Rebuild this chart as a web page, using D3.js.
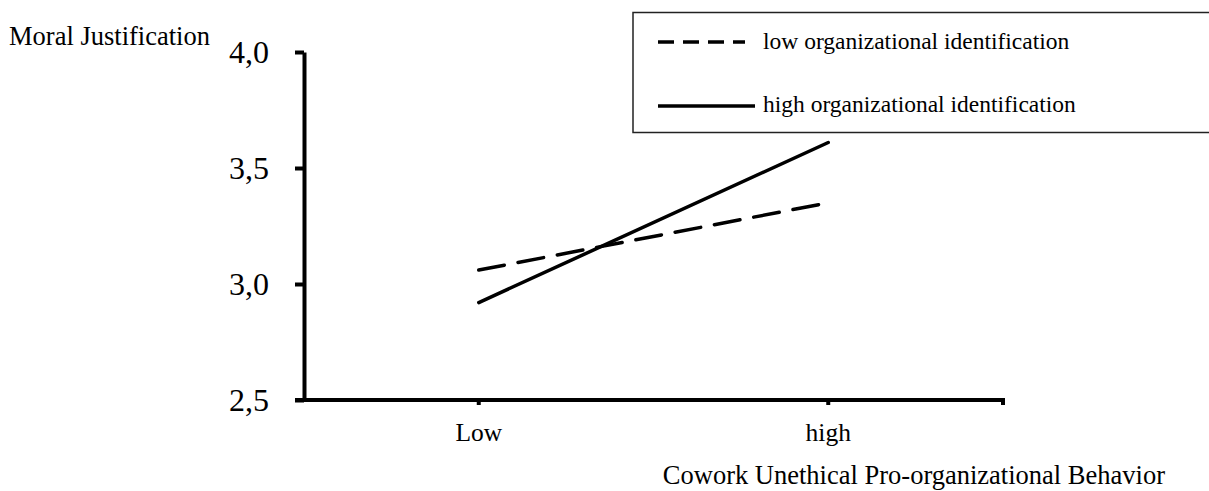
<!DOCTYPE html>
<html>
<head>
<meta charset="utf-8">
<script src="https://cdn.jsdelivr.net/npm/d3@7"></script>
<style>
  body { margin: 0; background: #fff; }
  svg { display: block; font-family: 'Liberation Serif', 'Times New Roman', serif; }
</style>
</head>
<body>
<svg id="chart" width="1209" height="491"></svg>
<script>
// data
const categories = ['Low', 'high']
const seriesNames = ['low organizational identification', 'high organizational identification']
const lowIdValues = [3.06, 3.35]
const highIdValues = [2.92, 3.61]
const yTicks = [2.5, 3.0, 3.5, 4.0]

const svg = d3.select('#chart')

const margin = { top: 52, right: 206, bottom: 91, left: 304 }
const width = 1209 - margin.left - margin.right
const height = 491 - margin.top - margin.bottom

const locale = d3.formatLocale({ decimal: ',', thousands: '.', grouping: [3], currency: ['', ''] })
const fmt = locale.format('.1f')

const x = d3.scaleBand().domain(categories).range([0, width])
const y = d3.scaleLinear().domain([2.5, 4.0]).range([height, 0])

const g = svg.append('g').attr('transform', `translate(${margin.left},${margin.top})`)

// y axis
const yAxis = g.append('g')
  .call(d3.axisLeft(y).tickValues(yTicks).tickFormat(fmt).tickSize(9).tickSizeOuter(0).tickPadding(26))
yAxis.select('.domain').attr('stroke-width', 4).attr('stroke', '#000')
yAxis.selectAll('.tick line').attr('stroke-width', 4).attr('stroke', '#000')
yAxis.selectAll('.tick text')
  .attr('font-family', 'Liberation Serif')
  .attr('font-size', '32px')
  .attr('fill', '#000')

// x axis
const xAxis = g.append('g')
  .attr('transform', `translate(0,${height})`)
  .call(d3.axisBottom(x).tickSize(5).tickSizeOuter(0).tickPadding(18))
xAxis.select('.domain').remove()
xAxis.insert('line', ':first-child')
  .attr('x1', -9).attr('x2', width + 2)
  .attr('y1', 0).attr('y2', 0)
  .attr('stroke', '#000').attr('stroke-width', 4)
xAxis.append('line')
  .attr('x1', x.range()[1]).attr('x2', x.range()[1])
  .attr('y1', 0).attr('y2', 5)
  .attr('stroke', '#000').attr('stroke-width', 4)
xAxis.selectAll('.tick line').attr('stroke-width', 4).attr('stroke', '#000')
xAxis.selectAll('.tick text')
  .attr('font-family', 'Liberation Serif')
  .attr('font-size', '25.5px')
  .attr('fill', '#000')

// lines
const line = d3.line()
  .x((d, i) => x(categories[i]) + x.bandwidth() / 2)
  .y(d => y(d))

g.append('path')
  .datum(lowIdValues)
  .attr('fill', 'none')
  .attr('stroke', '#000')
  .attr('stroke-width', 3.5)
  .attr('stroke-linecap', 'round')
  .attr('stroke-dasharray', '26,14')
  .attr('d', line)

g.append('path')
  .datum(highIdValues)
  .attr('fill', 'none')
  .attr('stroke', '#000')
  .attr('stroke-width', 3.5)
  .attr('stroke-linecap', 'round')
  .attr('d', line)

// axis titles
svg.append('text')
  .attr('x', 9)
  .attr('y', 45)
  .attr('font-family', 'Liberation Serif')
  .attr('font-size', '26.5px')
  .attr('fill', '#000')
  .text('Moral Justification')

svg.append('text')
  .attr('x', 1165)
  .attr('y', 484)
  .attr('text-anchor', 'end')
  .attr('font-family', 'Liberation Serif')
  .attr('font-size', '26.5px')
  .attr('fill', '#000')
  .text('Cowork Unethical Pro-organizational Behavior')

// legend
const legend = svg.append('g').attr('class', 'legend')
legend.append('rect')
  .attr('x', 633)
  .attr('y', 12.5)
  .attr('width', 600)
  .attr('height', 120)
  .attr('fill', '#fff')
  .attr('stroke', '#222')
  .attr('stroke-width', 1.5)

const legendRows = [
  { name: seriesNames[0], dash: '16,9', x2: 745, y: 42, ty: 49 },
  { name: seriesNames[1], dash: null, x2: 755, y: 106, ty: 112 },
]
legendRows.forEach(r => {
  legend.append('line')
    .attr('x1', 658).attr('x2', r.x2)
    .attr('y1', r.y).attr('y2', r.y)
    .attr('stroke', '#000')
    .attr('stroke-width', 3.5)
    .attr('stroke-dasharray', r.dash)
  legend.append('text')
    .attr('x', 763)
    .attr('y', r.ty)
    .attr('font-family', 'Liberation Serif')
    .attr('font-size', '23.5px')
    .attr('fill', '#000')
    .text(r.name)
})
</script>
</body>
</html>
